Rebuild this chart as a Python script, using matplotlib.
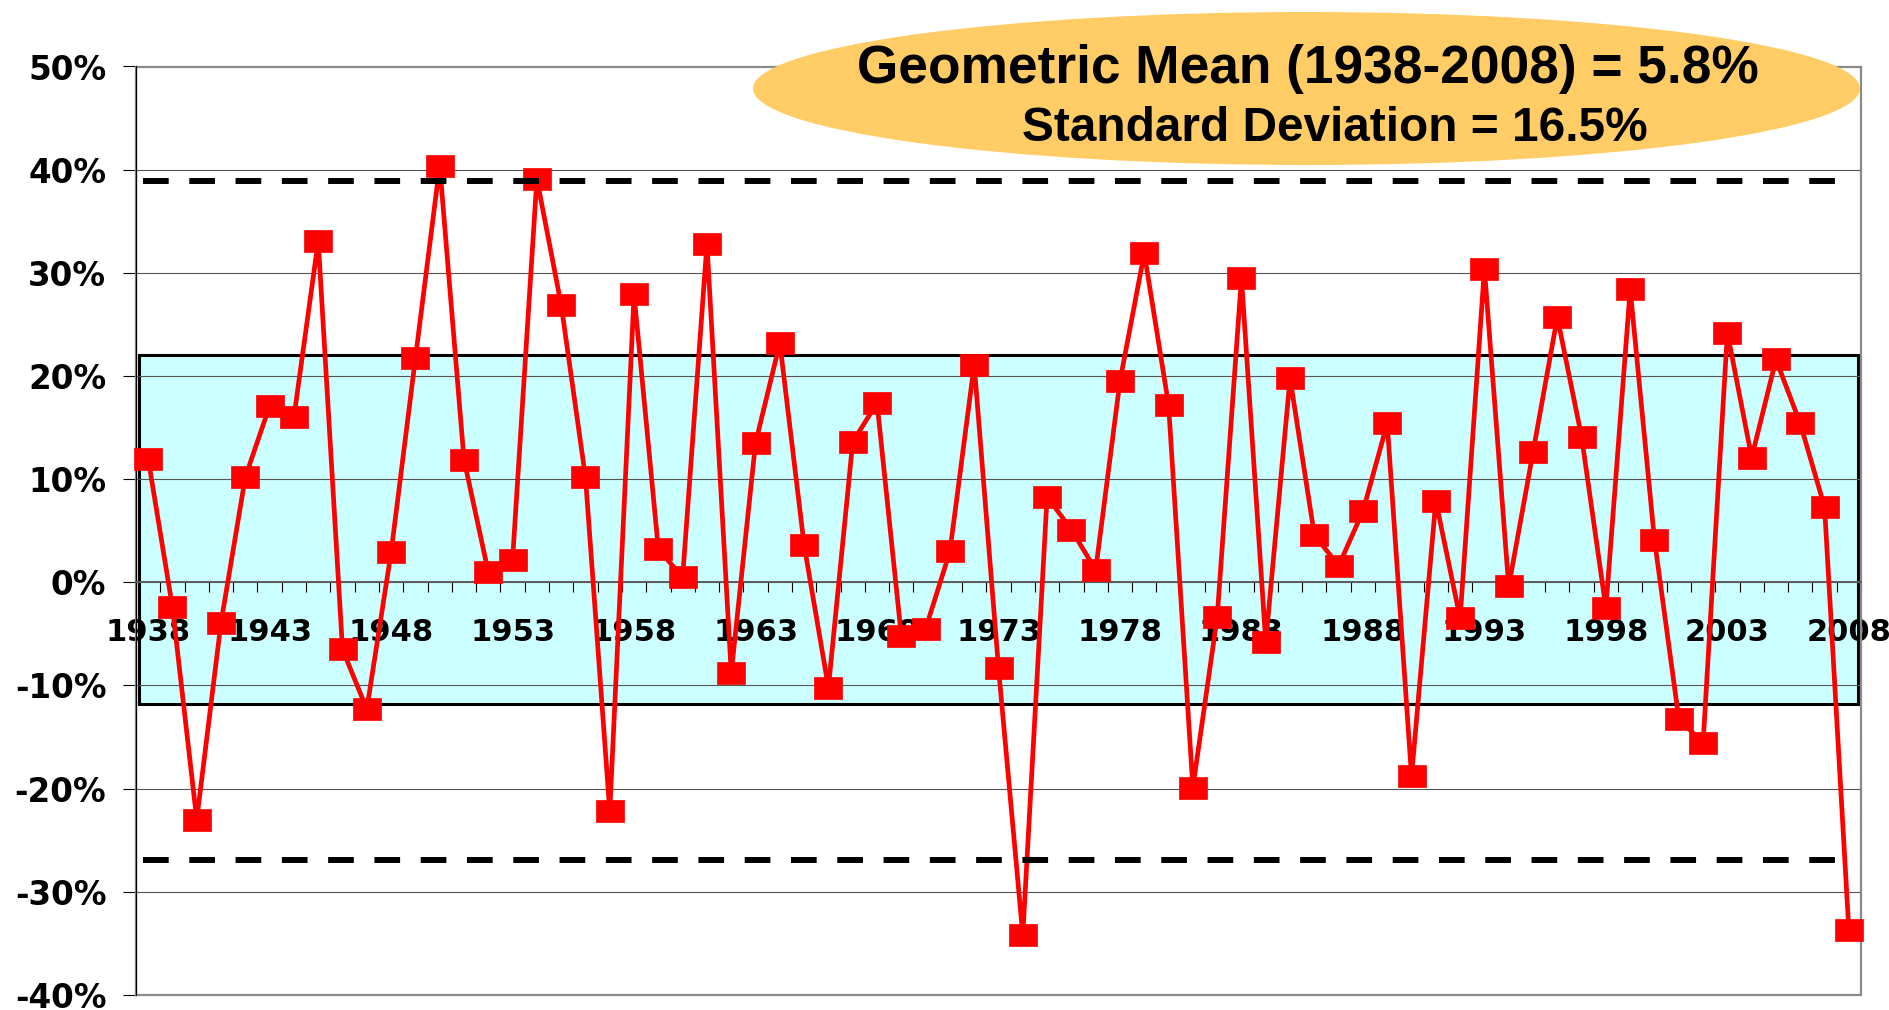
import matplotlib
matplotlib.use("Agg")
import matplotlib.pyplot as plt
import matplotlib.transforms as mtransforms
from matplotlib.patches import Ellipse, Rectangle
from matplotlib.ticker import FixedLocator

# ---- data -------------------------------------------------------------
years = list(range(1938, 2009))
returns = [
    12.0, -2.4, -23.0, -3.9, 10.2, 17.1, 16.0, 33.1, -6.5, -12.3,    # 1938-1947
    2.9, 21.7, 40.4, 11.9, 1.0, 2.2, 39.1, 26.9, 10.2, -22.2,        # 1948-1957
    27.9, 3.2, 0.5, 32.8, -8.8, 13.5, 23.2, 3.6, -10.2, 13.6,        # 1958-1967
    17.4, -5.2, -4.5, 3.0, 21.1, -8.3, -34.2, 8.3, 5.1, 1.2,         # 1968-1977
    19.5, 31.9, 17.2, -19.9, -3.4, 29.5, -5.8, 19.8, 4.6, 1.6,       # 1978-1987
    6.9, 15.4, -18.8, 7.9, -3.5, 30.4, -0.4, 12.6, 25.7, 14.1,       # 1988-1997
    -2.5, 28.4, 4.1, -13.2, -15.6, 24.2, 12.1, 21.6, 15.4, 7.3,      # 1998-2007
    -33.7,                                                           # 2008
]
label_years = [1938, 1943, 1948, 1953, 1958, 1963, 1968, 1973,
               1978, 1983, 1988, 1993, 1998, 2003, 2008]
y_ticks = [-40, -30, -20, -10, 0, 10, 20, 30, 40, 50]
y_tick_labels = ["-40%", "-30%", "-20%", "-10%", "0%",
                 "10%", "20%", "30%", "40%", "50%"]

band_low, band_high = -11.8, 22.0        # one-sigma band
lower_limit, upper_limit = -26.9, 38.9   # two-sigma limits

headline = "Geometric Mean (1938-2008) = 5.8%"
subline = "Standard Deviation = 16.5%"

# ---- figure -------------------------------------------------------------
W, H, DPI = 1889, 1010, 100
fig = plt.figure(figsize=(W / DPI, H / DPI), dpi=DPI)
fig.patch.set_facecolor("white")

ax_left, ax_right, ax_top, ax_bottom = 136, 1861, 66.5, 995
ax = fig.add_axes([ax_left / W, 1 - ax_bottom / H,
                   (ax_right - ax_left) / W, (ax_bottom - ax_top) / H])

n = len(years)
xs = list(range(n))
ax.set_xlim(-0.5, n - 0.5)
ax.set_ylim(-40, 50)

# frame: gray box, black value axis, category axis through zero
for side in ("top", "right"):
    ax.spines[side].set_visible(False)
ax.spines["left"].set_color("black")
ax.spines["left"].set_linewidth(0.9)
ax.spines["bottom"].set_position(("data", 0))
ax.spines["bottom"].set_color("#5c5c5c")
ax.spines["bottom"].set_linewidth(1.4)
ax.add_patch(Rectangle((0, 0), 1, 1, transform=ax.transAxes, fill=False,
                       edgecolor="#8a8a8a", linewidth=1.6, zorder=2.4,
                       clip_on=False))

# y axis
ax.yaxis.set_major_locator(FixedLocator(y_ticks))
ax.set_yticklabels(y_tick_labels, fontsize=23.5, fontweight="bold",
                   family="DejaVu Sans")
ax.tick_params(axis="y", direction="out", length=9.4, width=0.8,
               color="black", pad=12)
ax.yaxis.grid(True, color="#555555", linewidth=0.8)

# x axis: labels every 5 years, tick marks on category boundaries
ax.xaxis.set_major_locator(FixedLocator([years.index(y) for y in label_years]))
ax.set_xticklabels([str(y) for y in label_years], fontsize=22,
                   fontweight="bold", family="DejaVu Sans")
ax.xaxis.set_minor_locator(FixedLocator([i - 0.5 for i in range(n + 1)]))
ax.tick_params(axis="x", which="major", length=0, pad=25.5)
ax.tick_params(axis="x", which="minor", direction="out", length=7.2,
               width=0.8, color="black")

# one-sigma band
blend = mtransforms.blended_transform_factory(ax.transAxes, ax.transData)
ax.add_patch(Rectangle((0.0016, band_low), 0.9969, band_high - band_low,
                       transform=blend, facecolor="#CCFFFF",
                       edgecolor="black", linewidth=2.2, zorder=1))

# annual returns
rect_marker = [(-0.5, -0.39), (0.5, -0.39), (0.5, 0.39),
               (-0.5, 0.39), (-0.5, -0.39)]
ax.plot(xs, returns, color="#FF0000", linewidth=3.4, marker=rect_marker,
        markersize=20, markerfacecolor="#FF0000", markeredgecolor="#FF0000",
        markeredgewidth=0.5, zorder=3, clip_on=False)

# two-sigma limits
for level in (upper_limit, lower_limit):
    ax.axhline(level, xmin=0.004, xmax=0.992, color="black", linewidth=4.3,
               linestyle=(0, (4.3, 3.45)), dash_capstyle="butt", zorder=4)

# summary callout
fig.add_artist(Ellipse((1306.5 / W, 1 - 88.5 / H), 1107 / W, 153 / H,
                       transform=fig.transFigure, facecolor="#FFCC66",
                       edgecolor="none", zorder=5))
fig.text(1308 / W, 1 - 83 / H, headline, ha="center", va="baseline",
         fontsize=38.3, fontweight="bold", family="Liberation Sans", zorder=6)
fig.text(1335 / W, 1 - 141 / H, subline, ha="center", va="baseline",
         fontsize=34.4, fontweight="bold", family="Liberation Sans", zorder=6)

fig.savefig("out.png", dpi=DPI, facecolor="white")
